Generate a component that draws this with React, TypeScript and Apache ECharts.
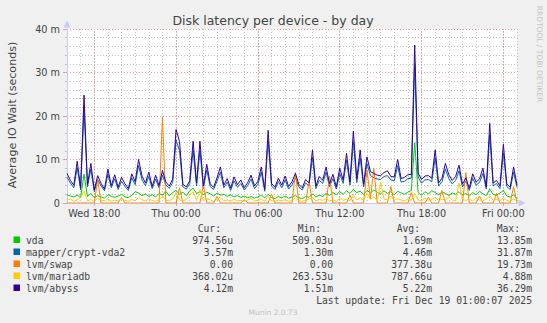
import React, { useEffect, useRef } from 'react';
import * as echarts from 'echarts';

// time axis: hours counted from Wed 00:00
const startHour = 16; // Wed 16:00
const stepHours = 0.25;
const endHour = 49; // Fri 01:00

const xTickHours = [18, 24, 30, 36, 42, 48];
const xTickLabels = ['Wed 18:00', 'Thu 00:00', 'Thu 06:00', 'Thu 12:00', 'Thu 18:00', 'Fri 00:00'];

const seriesNames = ['vda', 'mapper/crypt-vda2', 'lvm/swap', 'lvm/mariadb', 'lvm/abyss'];
const seriesColors = ['#00cc00', '#0066b3', '#ff8000', '#ffcc00', '#330099'];

const legendCur = ['974.56u', '3.57m', '0.00', '368.02u', '4.12m'];
const legendMin = ['509.03u', '1.30m', '0.00', '263.53u', '1.51m'];
const legendAvg = ['1.69m', '4.46m', '377.38u', '787.66u', '5.22m'];
const legendMax = ['13.85m', '31.87m', '19.73m', '4.88m', '36.29m'];

// values in milliseconds
const vda = [
  1.9, 1.6, 1.4, 1.8, 1.3, 6.6, 1.5, 2.2, 1.2, 1.7,
  1.4, 1.1, 1.9, 1.5, 1.3, 1.6, 2.0, 1.4, 1.2, 1.8,
  2.6, 2.3, 1.7, 2.1, 1.5, 1.9, 1.4, 2.2, 1.8, 2.7,
  1.6, 2.4, 2.9, 2.0, 2.5, 1.7, 2.8, 3.4, 2.2, 2.6,
  1.9, 2.5, 2.1, 1.6, 2.3, 1.8, 2.0, 1.5, 1.9, 1.4,
  1.7, 1.3, 1.6, 1.2, 1.5, 1.1, 1.4, 1.8, 1.2, 2.0,
  1.3, 1.0, 1.5, 1.2, 1.6, 1.1, 1.4, 1.7, 1.2, 1.0,
  1.5, 1.3, 2.1, 1.4, 1.8, 1.5, 2.2, 1.7, 2.4, 1.9,
  2.6, 2.0, 2.8, 2.2, 3.1, 2.4, 2.7, 2.0, 2.9, 2.3,
  3.0, 2.5, 2.1, 2.8, 2.2, 2.6, 1.9, 2.7, 2.3, 2.0,
  2.5, 2.9, 13.85, 2.4, 1.8, 2.6, 2.1, 2.8, 2.4, 1.9,
  2.5, 2.2, 1.7, 2.3, 2.0, 2.6, 1.8, 2.2, 1.6, 2.4,
  1.9, 2.7, 2.1, 1.7, 3.2, 2.0, 1.8, 2.3, 2.9, 1.6,
  1.4, 1.9, 0.97,
];

const mapper = [
  5.9, 4.6, 3.5, 8.1, 3.0, 21.5, 3.7, 7.8, 2.6, 5.4,
  3.9, 2.8, 6.6, 3.5, 5.6, 3.1, 5.0, 3.8, 2.9, 5.8,
  4.2, 8.6, 5.3, 4.0, 6.1, 3.3, 5.5, 3.5, 6.4, 4.1,
  3.4, 4.7, 14.5, 12.0, 3.7, 3.2, 4.4, 12.1, 3.9, 12.0,
  3.4, 7.6, 3.8, 3.1, 5.0, 7.1, 3.5, 4.8, 2.9, 5.1,
  3.6, 4.5, 3.0, 4.0, 5.5, 3.3, 4.3, 7.1, 2.7, 14.3,
  3.9, 3.1, 4.9, 3.5, 5.3, 3.2, 4.2, 5.8, 3.7, 3.0,
  4.6, 3.9, 10.5, 3.3, 5.2, 4.5, 7.1, 3.8, 5.6, 3.2,
  6.8, 4.5, 9.8, 4.1, 14.1, 4.7, 10.4, 3.7, 9.1, 6.3,
  5.8, 5.5, 5.4, 6.1, 6.3, 5.3, 5.1, 8.6, 4.8, 5.0,
  5.6, 5.7, 31.87, 6.0, 4.6, 5.3, 5.4, 4.9, 10.4, 3.9,
  4.9, 7.8, 5.6, 4.4, 5.2, 7.4, 3.7, 5.0, 2.9, 5.7,
  4.1, 4.7, 6.8, 3.2, 15.6, 3.9, 4.5, 3.3, 11.5, 3.8,
  3.1, 7.1, 3.57,
];

const swap = [
  0, 0, 0, 0, 0, 0, 0, 0, 0, 5.3,
  0, 0, 0, 0, 0, 0, 1.2, 0, 0, 0,
  0, 0, 0, 0, 0, 0, 0, 0, 19.73, 0,
  0, 0, 0, 3.5, 0, 0, 0, 0, 0, 0,
  4.2, 0, 0, 0, 1.5, 0, 0, 0, 0, 0,
  0, 0, 0.8, 0, 0, 0, 0, 0, 0, 0,
  2.1, 0, 0, 0, 0, 0, 0, 7.0, 0, 0,
  0, 5.0, 0, 0, 0, 0, 0, 6.2, 0, 0,
  0, 0, 0, 1.8, 0, 0, 0, 0, 7.6, 0.9,
  8.0, 0, 0, 0, 0, 3.8, 0, 0, 0, 0,
  0, 2.4, 0, 0, 0, 0, 1.3, 0, 0, 0,
  2.9, 0, 0, 0, 0, 0, 0, 7.0, 0, 0,
  0, 1.6, 0, 0, 0, 0, 2.2, 0, 0, 0,
  0, 3.8, 0,
];

const mariadb = [
  0.6, 0.9, 0.4, 0.7, 1.2, 2.8, 0.5, 0.8, 0.4, 1.1,
  0.6, 0.5, 0.9, 0.4, 0.7, 0.5, 1.0, 0.6, 0.4, 0.8,
  0.5, 1.3, 0.7, 0.5, 0.9, 0.6, 0.4, 0.8, 1.5, 0.6,
  0.5, 0.9, 2.4, 0.7, 0.5, 0.8, 1.9, 2.6, 0.6, 3.1,
  0.5, 1.0, 0.7, 0.4, 0.8, 1.4, 0.5, 0.7, 0.4, 0.9,
  0.5, 0.6, 0.4, 0.7, 1.1, 0.5, 0.6, 0.9, 0.4, 1.6,
  0.5, 0.4, 0.7, 0.5, 0.8, 0.4, 0.6, 1.2, 0.5, 0.4,
  0.7, 0.9, 1.3, 0.5, 0.8, 0.6, 1.0, 0.5, 0.7, 0.4,
  1.1, 0.6, 0.9, 0.5, 1.8, 0.7, 1.2, 0.6, 2.3, 0.8,
  1.4, 0.6, 4.88, 0.9, 0.7, 1.6, 0.6, 1.0, 0.7, 0.5,
  0.9, 0.6, 2.2, 0.7, 0.5, 1.1, 0.6, 0.8, 1.3, 0.5,
  0.9, 0.6, 1.5, 0.7, 0.5, 4.6, 0.8, 0.6, 0.9, 0.5,
  1.2, 0.7, 0.5, 0.9, 1.7, 0.6, 0.8, 0.5, 1.1, 0.6,
  0.4, 0.9, 0.37,
];

const abyss = [
  6.8, 5.2, 4.1, 9.6, 3.5, 24.8, 4.2, 9.1, 3.0, 6.3,
  4.5, 3.2, 7.8, 4.0, 6.5, 3.6, 5.9, 4.4, 3.3, 6.7,
  4.9, 10.0, 6.2, 4.6, 7.1, 3.8, 6.4, 4.0, 7.5, 4.8,
  3.9, 5.5, 16.9, 14.1, 4.3, 3.7, 5.1, 14.2, 4.6, 14.2,
  3.9, 8.9, 4.4, 3.6, 5.8, 8.3, 4.1, 5.6, 3.4, 6.0,
  4.2, 5.3, 3.5, 4.7, 6.4, 3.9, 5.0, 8.3, 3.1, 16.7,
  4.5, 3.6, 5.7, 4.1, 6.2, 3.8, 4.9, 6.8, 4.3, 3.5,
  5.4, 4.6, 12.2, 3.9, 6.1, 5.2, 8.3, 4.4, 6.6, 3.7,
  8.0, 5.3, 11.4, 4.8, 16.5, 5.5, 12.2, 4.3, 10.6, 7.2,
  6.8, 6.4, 6.3, 7.0, 7.4, 6.1, 6.0, 10.0, 5.6, 5.9,
  6.5, 6.6, 36.29, 6.9, 5.4, 6.2, 6.3, 5.7, 12.2, 4.6,
  5.7, 9.1, 6.5, 5.2, 6.1, 8.7, 4.3, 5.8, 3.4, 6.7,
  4.8, 5.5, 8.0, 3.7, 18.3, 4.6, 5.2, 3.9, 13.5, 4.4,
  3.6, 8.3, 4.12,
];

const seriesValues = [vda, mapper, swap, mariadb, abyss];

const SANS = 'DejaVu Sans';
const MONO = 'DejaVu Sans Mono';
const TEXT = '#444';
const MINOR = '#c4c4c4';
const MAJOR = '#e6a0a0';
const AXIS = '#c6ccf4';

export default function App() {
  const ref = useRef<HTMLDivElement>(null);

  useEffect(() => {
    if (!ref.current) return;
    const chart = echarts.init(ref.current, null, { renderer: 'svg' });

    const rowY = [240, 252, 264, 276, 288];
    const colRight = [233, 333, 432, 532];
    const headers = ['Cur:', 'Min:', 'Avg:', 'Max:'];
    const cols = [legendCur, legendMin, legendAvg, legendMax];

    const graphic: any[] = [
      {
        type: 'text', x: 273, y: 20,
        style: { text: 'Disk latency per device - by day', fontFamily: SANS, fontSize: 12.5, fill: TEXT, align: 'center', verticalAlign: 'middle', textAlign: 'center', textVerticalAlign: 'middle' },
      },
      {
        type: 'text', x: 12, y: 115, rotation: Math.PI / 2,
        style: { text: 'Average IO Wait (seconds)', fontFamily: SANS, fontSize: 11.1, fill: TEXT, align: 'center', verticalAlign: 'middle', textAlign: 'center', textVerticalAlign: 'middle' },
      },
      {
        type: 'text', x: 539, y: 54, rotation: -Math.PI / 2,
        style: { text: 'RRDTOOL / TOBI OETIKER', fontFamily: SANS, fontSize: 7.5, fill: '#c4c4c4', align: 'center', verticalAlign: 'middle', textAlign: 'center', textVerticalAlign: 'middle' },
      },
      {
        type: 'text', x: 273, y: 312,
        style: { text: 'Munin 2.0.73', fontFamily: SANS, fontSize: 7.5, fill: '#c4c4c4', align: 'center', verticalAlign: 'middle', textAlign: 'center', textVerticalAlign: 'middle' },
      },
      {
        type: 'text', x: 532, y: 300,
        style: { text: 'Last update: Fri Dec 19 01:00:07 2025', fontFamily: MONO, fontSize: 9.7, fill: TEXT, align: 'right', verticalAlign: 'middle', textAlign: 'right', textVerticalAlign: 'middle' },
      },
    ];
    headers.forEach((h, c) => {
      graphic.push({
        type: 'text', x: colRight[c] - 12, y: 228,
        style: { text: h, fontFamily: MONO, fontSize: 9.7, fill: TEXT, align: 'right', verticalAlign: 'middle', textAlign: 'right', textVerticalAlign: 'middle' },
      });
    });
    seriesNames.forEach((name, r) => {
      graphic.push({
        type: 'rect', shape: { x: 13.5, y: rowY[r] - 3.5, width: 6.5, height: 6.5 },
        style: { fill: seriesColors[r] },
      });
      graphic.push({
        type: 'text', x: 26, y: rowY[r],
        style: { text: name, fontFamily: MONO, fontSize: 9.7, fill: TEXT, align: 'left', verticalAlign: 'middle', textAlign: 'left', textVerticalAlign: 'middle' },
      });
      cols.forEach((col, c) => {
        graphic.push({
          type: 'text', x: colRight[c], y: rowY[r],
          style: { text: col[r], fontFamily: MONO, fontSize: 9.7, fill: TEXT, align: 'right', verticalAlign: 'middle', textAlign: 'right', textVerticalAlign: 'middle' },
        });
      });
    });

    const lineSeries = seriesNames.map((name, k) => ({
      name,
      type: 'line',
      xAxisIndex: 1,
      yAxisIndex: 1,
      showSymbol: false,
      symbol: 'none',
      silent: true,
      z: 3 + k,
      lineStyle: { color: seriesColors[k], width: 1 },
      data: seriesValues[k].map((v, i) => [startHour + i * stepHours, v]),
    }));

    const option: any = {
      animation: false,
      backgroundColor: '#f0f0f0',
      textStyle: { fontFamily: SANS },
      grid: {
        left: 67, top: 29, width: 450, height: 174,
        show: true, backgroundColor: '#ffffff', borderWidth: 0, containLabel: false,
      },
      xAxis: [
        {
          type: 'value', min: startHour, max: endHour, interval: 1, position: 'bottom',
          axisLine: { show: false }, axisTick: { show: false }, axisLabel: { show: false },
          splitLine: { show: true, lineStyle: { color: MINOR, width: 1, type: [1, 2] } },
        },
        {
          type: 'value', min: startHour, max: endHour, position: 'bottom',
          axisLine: {
            show: true, lineStyle: { color: AXIS, width: 1 },
            symbol: ['none', 'triangle'], symbolSize: [7, 7], symbolOffset: [0, 5],
          },
          axisTick: { show: true, customValues: xTickHours, length: 3, lineStyle: { color: MAJOR } },
          axisLabel: {
            show: true, customValues: xTickHours, margin: 5,
            color: TEXT, fontFamily: SANS, fontSize: 9.7,
            formatter: (v: number) => {
              const idx = xTickHours.indexOf(v);
              return idx >= 0 ? xTickLabels[idx] : '';
            },
          },
          splitLine: { show: false },
        },
      ],
      yAxis: [
        {
          type: 'value', min: 0, max: 40, interval: 2, position: 'left',
          axisLine: { show: false }, axisLabel: { show: false },
          axisTick: { show: true, length: 2, lineStyle: { color: MINOR } },
          splitLine: { show: true, lineStyle: { color: MINOR, width: 1, type: [1, 2] } },
        },
        {
          type: 'value', min: 0, max: 40, interval: 10, position: 'left',
          axisLine: {
            show: true, lineStyle: { color: AXIS, width: 1 },
            symbol: ['none', 'triangle'], symbolSize: [7, 7], symbolOffset: [0, 5],
          },
          axisTick: { show: true, length: 4, lineStyle: { color: MAJOR } },
          axisLabel: {
            show: true, margin: 7, color: TEXT, fontFamily: SANS, fontSize: 9.7,
            formatter: (v: number) => (v === 0 ? '0' : `${v} m`),
          },
          splitLine: { show: true, lineStyle: { color: MAJOR, width: 1, type: [1, 2] } },
        },
      ],
      series: [
        {
          type: 'line', xAxisIndex: 1, yAxisIndex: 1, data: [], silent: true, z: 1,
          markLine: {
            silent: true, symbol: 'none', z: 1, animation: false,
            label: { show: false },
            lineStyle: { color: MAJOR, width: 1, type: [1, 2] },
            data: xTickHours.map((h) => ({ xAxis: h })),
          },
        },
        ...lineSeries,
      ],
      graphic,
    };

    chart.setOption(option);
    return () => chart.dispose();
  }, []);

  return (
    <div
      ref={ref}
      style={{ position: 'absolute', left: 0, top: 0, width: 547, height: 323 }}
    />
  );
}
